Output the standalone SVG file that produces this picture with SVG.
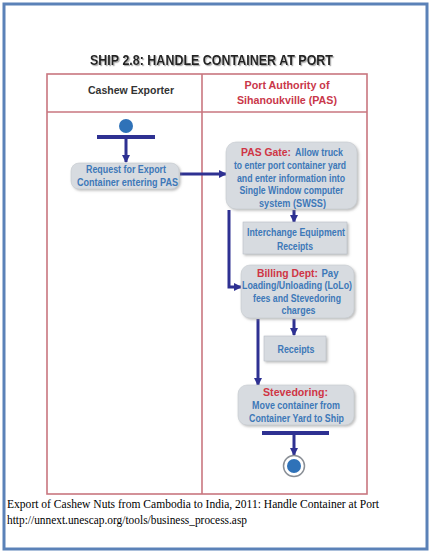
<svg xmlns="http://www.w3.org/2000/svg" width="430" height="552" viewBox="0 0 430 552">
<style>
.frame{fill:#fff;stroke:#5b82b8;stroke-width:3}
.lane{fill:none;stroke:#c9767f;stroke-width:1.6}
.act{fill:#d7dbe0;stroke:#c4c9cf;stroke-width:0.6;filter:url(#sh)}
.doc{fill:#d7dbe0;stroke:#b9bec5;stroke-width:0.6;filter:url(#sh)}
.t{font-family:"Liberation Sans",Arial,sans-serif;font-weight:bold;font-size:10px;fill:#3d78b8;text-anchor:middle}
.r{font-family:"Liberation Sans",Arial,sans-serif;font-weight:bold;font-size:11px;fill:#cf3545}
.hd{font-family:"Liberation Sans",Arial,sans-serif;font-weight:bold;font-size:11px;text-anchor:middle}
.cap{font-family:"Liberation Serif","Times New Roman",serif;font-size:13px;fill:#000}
.con{fill:none;stroke:#2e3192;stroke-width:3}
.bar{stroke:#2e3192;stroke-width:4}
</style>
<defs>
<filter id="sh" x="-10%" y="-10%" width="125%" height="135%">
<feDropShadow dx="1.5" dy="1.5" stdDeviation="1" flood-color="#888" flood-opacity="0.55"/>
</filter>
<filter id="tsh" x="-5%" y="-30%" width="110%" height="160%">
<feDropShadow dx="1.2" dy="1.2" stdDeviation="0.6" flood-color="#999" flood-opacity="0.8"/>
</filter>
<marker id="ah" markerUnits="userSpaceOnUse" markerWidth="9" markerHeight="9" refX="7" refY="4.5" orient="auto">
<path d="M0,0.5 L8,4.5 L0,8.5 Z" fill="#2e3192"/>
</marker>
</defs>
<rect class="frame" x="4" y="4" width="423" height="545"/>
<text id="title" x="211.5" y="65" text-anchor="middle" font-family="'Liberation Sans',Arial,sans-serif" font-weight="bold" font-size="14" fill="#222" textLength="243" lengthAdjust="spacingAndGlyphs" filter="url(#tsh)">SHIP 2.8: HANDLE CONTAINER AT PORT</text>
<g id="lanes">
<rect class="lane" x="47" y="74" width="320" height="420"/>
<line class="lane" x1="47" y1="112" x2="367" y2="112"/>
<line class="lane" x1="202" y1="74" x2="202" y2="494"/>
<text class="hd" x="131" y="94" fill="#333" textLength="86" lengthAdjust="spacingAndGlyphs">Cashew Exporter</text>
<text class="hd" x="287" y="89" fill="#c9374a" textLength="85" lengthAdjust="spacingAndGlyphs">Port Authority of</text>
<text class="hd" x="287" y="104" fill="#c9374a" textLength="100" lengthAdjust="spacingAndGlyphs">Sihanoukville (PAS)</text>
</g>
<g id="connectors">
<line class="con" x1="126" y1="138" x2="126" y2="162" marker-end="url(#ah)"/>
<line class="con" x1="180" y1="174" x2="226" y2="174" marker-end="url(#ah)"/>
<line class="con" x1="294" y1="210" x2="294" y2="222" marker-end="url(#ah)"/>
<polyline class="con" points="229,210 229,287 241,287" marker-end="url(#ah)"/>
<line class="con" x1="294" y1="319" x2="294" y2="335" marker-end="url(#ah)"/>
<line class="con" x1="258" y1="319" x2="258" y2="385" marker-end="url(#ah)"/>
<line class="con" x1="294" y1="434" x2="294" y2="455" marker-end="url(#ah)"/>
</g>
<g id="start">
<circle cx="126" cy="126" r="7" fill="#2f72b8"/>
<line class="bar" x1="97" y1="137" x2="155" y2="137"/>
</g>
<g id="request">
<rect class="act" x="71" y="163" width="108" height="26" rx="8"/>
<text class="t" x="126" y="172.5" textLength="80" lengthAdjust="spacingAndGlyphs">Request for Export</text>
<text class="t" x="127.5" y="185.5" textLength="101" lengthAdjust="spacingAndGlyphs">Container entering PAS</text>
</g>
<g id="pasgate">
<rect class="act" x="226" y="142" width="131" height="67" rx="10"/>
<text class="r" x="241" y="156" textLength="50" lengthAdjust="spacingAndGlyphs">PAS Gate:</text>
<text class="t" x="319" y="156" textLength="48" lengthAdjust="spacingAndGlyphs">Allow truck</text>
<text class="t" x="290" y="168.5" textLength="112" lengthAdjust="spacingAndGlyphs">to enter port container yard</text>
<text class="t" x="291" y="181.5" textLength="108" lengthAdjust="spacingAndGlyphs">and enter information into</text>
<text class="t" x="291.5" y="194" textLength="104" lengthAdjust="spacingAndGlyphs">Single Window computer</text>
<text class="t" x="292.5" y="206.5" textLength="67" lengthAdjust="spacingAndGlyphs">system (SWSS)</text>
</g>
<g id="interchange">
<rect class="doc" x="243" y="222" width="104" height="32"/>
<text class="t" x="296" y="235.5" textLength="98" lengthAdjust="spacingAndGlyphs">Interchange Equipment</text>
<text class="t" x="295" y="249.5" textLength="36" lengthAdjust="spacingAndGlyphs">Receipts</text>
</g>
<g id="billing">
<rect class="act" x="241" y="265" width="113" height="53" rx="9"/>
<text class="r" x="257" y="276.5" textLength="61" lengthAdjust="spacingAndGlyphs">Billing Dept:</text>
<text class="t" x="330" y="276.5" textLength="17" lengthAdjust="spacingAndGlyphs">Pay</text>
<text class="t" x="297" y="288.5" textLength="110" lengthAdjust="spacingAndGlyphs">Loading/Unloading (LoLo)</text>
<text class="t" x="297" y="301.5" textLength="88" lengthAdjust="spacingAndGlyphs">fees and Stevedoring</text>
<text class="t" x="298.5" y="313.5" textLength="34" lengthAdjust="spacingAndGlyphs">charges</text>
</g>
<g id="receipts">
<rect class="doc" x="264" y="336" width="62" height="25"/>
<text class="t" x="296" y="352.5" textLength="37" lengthAdjust="spacingAndGlyphs">Receipts</text>
</g>
<g id="stevedoring">
<rect class="act" x="238" y="385" width="116" height="40" rx="9"/>
<text class="r" x="295.5" y="396" text-anchor="middle" textLength="65" lengthAdjust="spacingAndGlyphs">Stevedoring:</text>
<text class="t" x="296" y="408.5" textLength="88" lengthAdjust="spacingAndGlyphs">Move container from</text>
<text class="t" x="296.5" y="421.5" textLength="95" lengthAdjust="spacingAndGlyphs">Container Yard to Ship</text>
</g>
<g id="end">
<line class="bar" x1="262" y1="433" x2="329" y2="433"/>
<circle cx="294" cy="466" r="10.5" fill="#fff" stroke="#8a8f96" stroke-width="1.5"/>
<circle cx="294" cy="466" r="7" fill="#2f72b8"/>
</g>
<g id="caption">
<text class="cap" x="7" y="507.5" textLength="372" lengthAdjust="spacingAndGlyphs">Export of Cashew Nuts from Cambodia to India, 2011: Handle Container at Port</text>
<text class="cap" x="7" y="523.5" textLength="240" lengthAdjust="spacingAndGlyphs">http://unnext.unescap.org/tools/business_process.asp</text>
</g>
</svg>
